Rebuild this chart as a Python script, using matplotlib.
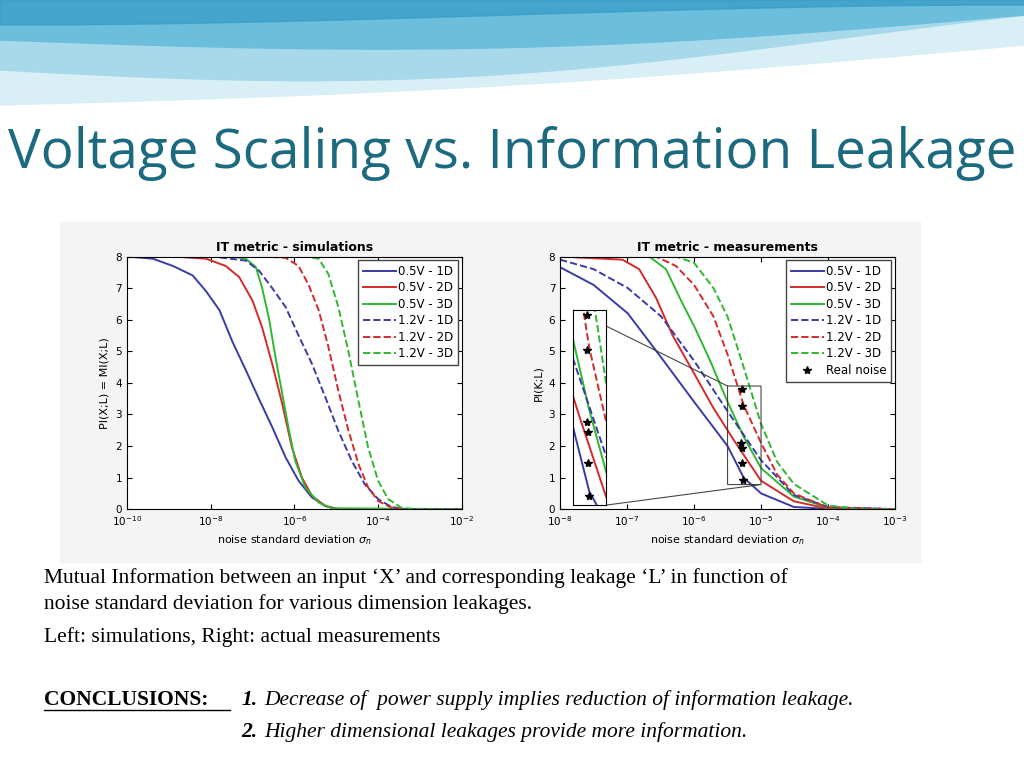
import numpy as np
import matplotlib
matplotlib.use("Agg")
import matplotlib.pyplot as plt

# ---- data: x = log10(sigma_n), y = information (bits) ----
LABELS = ["0.5V - 1D", "0.5V - 2D", "0.5V - 3D", "1.2V - 1D", "1.2V - 2D", "1.2V - 3D"]
COLORS = ["#3a3aa8", "#d42a2a", "#2fb82f", "#3a3aa8", "#d42a2a", "#2fb82f"]
STYLES = ["-", "-", "-", "--", "--", "--"]

SIM_X = [
    [-10, -9.38, -8.90, -8.43, -8.11, -7.79, -7.48, -7.16, -6.85, -6.53, -6.21, -5.90, -5.58, -5.26, -4.95, -2],
    [-10, -8.90, -8.11, -7.64, -7.32, -7.00, -6.77, -6.53, -6.29, -6.06, -5.82, -5.58, -5.26, -4.95, -2],
    [-10, -7.48, -7.16, -6.92, -6.77, -6.61, -6.45, -6.29, -6.13, -5.98, -5.74, -5.42, -5.11, -2],
    [-10, -7.95, -7.16, -6.85, -6.53, -6.21, -5.90, -5.58, -5.26, -4.95, -4.63, -4.32, -4.0, -3.68, -3.37, -2],
    [-10, -6.69, -6.21, -5.90, -5.66, -5.42, -5.19, -4.95, -4.71, -4.47, -4.24, -4.0, -3.68, -3.37, -2],
    [-10, -5.74, -5.42, -5.19, -4.95, -4.71, -4.47, -4.24, -4.0, -3.76, -3.45, -3.13, -2],
]
SIM_Y = [
    [8, 7.93, 7.7, 7.4, 6.9, 6.3, 5.3, 4.4, 3.5, 2.6, 1.64, 0.9, 0.37, 0.1, 0, 0],
    [8, 8, 7.93, 7.7, 7.35, 6.6, 5.75, 4.6, 3.33, 1.96, 1.0, 0.42, 0.1, 0, 0],
    [8, 8, 7.93, 7.66, 7.0, 6.05, 4.8, 3.65, 2.5, 1.53, 0.69, 0.21, 0.03, 0],
    [8, 8, 7.87, 7.56, 7.0, 6.4, 5.5, 4.6, 3.54, 2.48, 1.53, 0.79, 0.32, 0.07, 0, 0],
    [8, 8, 7.96, 7.7, 7.1, 6.3, 5.15, 3.75, 2.5, 1.43, 0.69, 0.26, 0.05, 0, 0],
    [8, 8, 7.93, 7.45, 6.4, 5.0, 3.43, 1.96, 0.9, 0.32, 0.05, 0, 0],
]

MEAS_X = [
    [-8, -7.5, -6.99, -6.49, -6.0, -5.50, -5.26, -5.0, -4.51, -4.0, -3],
    [-8, -7.07, -6.82, -6.57, -6.32, -6.0, -5.71, -5.41, -5.0, -4.51, -4.0, -3],
    [-8, -6.67, -6.42, -6.17, -6.0, -5.76, -5.50, -5.26, -5.0, -4.51, -4.0, -3],
    [-8, -7.5, -6.99, -6.49, -6.0, -5.50, -5.0, -4.51, -4.0, -3],
    [-8, -6.57, -6.27, -6.0, -5.71, -5.50, -5.26, -5.0, -4.76, -4.51, -4.0, -3],
    [-8, -6.27, -6.0, -5.71, -5.50, -5.26, -5.0, -4.76, -4.51, -4.0, -3.55, -3],
]
MEAS_Y = [
    [7.66, 7.1, 6.2, 4.8, 3.4, 2.0, 1.0, 0.5, 0.07, 0.01, 0],
    [8, 7.9, 7.6, 6.7, 5.5, 4.3, 3.2, 2.2, 0.9, 0.25, 0.02, 0],
    [8, 8, 7.6, 6.5, 5.8, 4.7, 3.4, 2.3, 1.3, 0.4, 0.05, 0],
    [7.9, 7.6, 7.0, 6.1, 4.7, 3.1, 1.55, 0.45, 0.07, 0],
    [8, 8, 7.7, 7.1, 6.1, 4.9, 3.3, 2.1, 1.1, 0.5, 0.05, 0],
    [8, 8, 7.8, 7.0, 6.1, 4.5, 2.7, 1.5, 0.8, 0.12, 0, 0],
]
NOISE_X = [-5.29, -5.29, -5.30, -5.28, -5.28, -5.27]
NOISE_Y = [3.82, 3.26, 2.1, 1.95, 1.46, 0.92]

TEAL = "#1b6a80"

fig = plt.figure(figsize=(10.24, 7.68), dpi=100)

# ---- header wave ----
bg = fig.add_axes([0, 0, 1, 1])
bg.set_xlim(0, 1024)
bg.set_ylim(768, 0)
bg.axis("off")
xs = np.linspace(0, 1024, 300)
t = xs / 1024
bg.fill_between(xs, 0, 105 - 60 * t + 10 * np.sin(t * np.pi), color="#d8eff6")
bg.fill_between(xs, 0, 70 - 40 * t + 25 * np.sin(t * np.pi * 1.2), color="#a8d9ea")
bg.fill_between(xs, 0, 40 + 20 * np.sin(t * np.pi) - 25 * t, color="#6cbfdc")
bg.fill_between(xs, 0, 15 + 10 * np.cos(t * np.pi), color="#3a9ec8", alpha=0.8)
bg.add_patch(plt.Rectangle((60, 222), 860, 340, color="#f4f4f4", zorder=0))

fig.text(0.5, 0.80, "Voltage Scaling vs. Information Leakage", ha="center", va="center",
         fontsize=39.5, color=TEAL, family="Open Sans")


def draw_curves(ax, xs_list, ys_list):
    for xs_, ys_, c, s, lab in zip(xs_list, ys_list, COLORS, STYLES, LABELS):
        ax.plot(10.0 ** np.array(xs_), ys_, color=c, ls=s, lw=1.4, label=lab)


def style(ax, title, ylabel, xlim):
    ax.set_xscale("log")
    ax.set_xlim(*xlim)
    ax.set_ylim(0, 8)
    ax.set_yticks(range(9))
    ax.set_title(title, fontsize=9, fontweight="bold", pad=4)
    ax.set_ylabel(ylabel, fontsize=8)
    ax.set_xlabel(r"noise standard deviation $\sigma_n$", fontsize=8)
    ax.tick_params(labelsize=7.5, direction="in", top=True, right=True, which="both")
    ax.minorticks_off()


leg_kw = dict(loc="upper right", fontsize=8.5, handlelength=2.8, fancybox=False,
              edgecolor="#444", borderpad=0.4, labelspacing=0.3, handletextpad=0.2,
              borderaxespad=0.3, framealpha=1)

ax1 = fig.add_axes([0.124, 0.337, 0.327, 0.329])
draw_curves(ax1, SIM_X, SIM_Y)
style(ax1, "IT metric - simulations", "PI(X;L) = MI(X;L)", (1e-10, 1e-2))
ax1.set_xticks([1e-10, 1e-8, 1e-6, 1e-4, 1e-2])
ax1.legend(**leg_kw)

ax2 = fig.add_axes([0.547, 0.337, 0.327, 0.329])
draw_curves(ax2, MEAS_X, MEAS_Y)
ax2.plot(10.0 ** np.array(NOISE_X), NOISE_Y, "k*", ls="none", ms=6, label="Real noise")
style(ax2, "IT metric - measurements", "PI(K;L)", (1e-8, 1e-3))
ax2.set_xticks([1e-8, 1e-7, 1e-6, 1e-5, 1e-4, 1e-3])
ax2.legend(**leg_kw)

ins = ax2.inset_axes([1.58e-8, 0.13, 4.9e-8 - 1.58e-8, 6.18], transform=ax2.transData)
draw_curves(ins, MEAS_X, MEAS_Y)
ins.plot(10.0 ** np.array(NOISE_X), NOISE_Y, "k*", ls="none", ms=6)
ins.set_xscale("log")
ins.set_xlim(10 ** -5.5, 1e-5)
ins.set_ylim(0.78, 3.9)
ins.set_xticks([])
ins.set_yticks([])
ins.minorticks_off()
ax2.indicate_inset_zoom(ins, edgecolor="#333", alpha=0.9, lw=0.8)

# ---- body text ----
serif = "Liberation Serif"
fig.text(0.043, 0.247, "Mutual Information between an input \u2018X\u2019 and corresponding leakage \u2018L\u2019 in function of",
         fontsize=15.5, family=serif, va="center")
fig.text(0.043, 0.213, "noise standard deviation for various dimension leakages.",
         fontsize=15.5, family=serif, va="center")
fig.text(0.043, 0.171, "Left: simulations, Right: actual measurements",
         fontsize=15.5, family=serif, va="center")
fig.text(0.043, 0.088, "CONCLUSIONS:", fontsize=15.5, family=serif, fontweight="bold", va="center")
bg.plot([44, 230], [710, 710], color="k", lw=1)
fig.text(0.236, 0.088, "1.", fontsize=15.5, family=serif, style="italic", fontweight="bold", va="center")
fig.text(0.258, 0.088, "Decrease of  power supply implies reduction of information leakage.",
         fontsize=15.5, family=serif, style="italic", va="center")
fig.text(0.236, 0.047, "2.", fontsize=15.5, family=serif, style="italic", fontweight="bold", va="center")
fig.text(0.258, 0.047, "Higher dimensional leakages provide more information.",
         fontsize=15.5, family=serif, style="italic", va="center")

fig.savefig("out.png", dpi=100)
